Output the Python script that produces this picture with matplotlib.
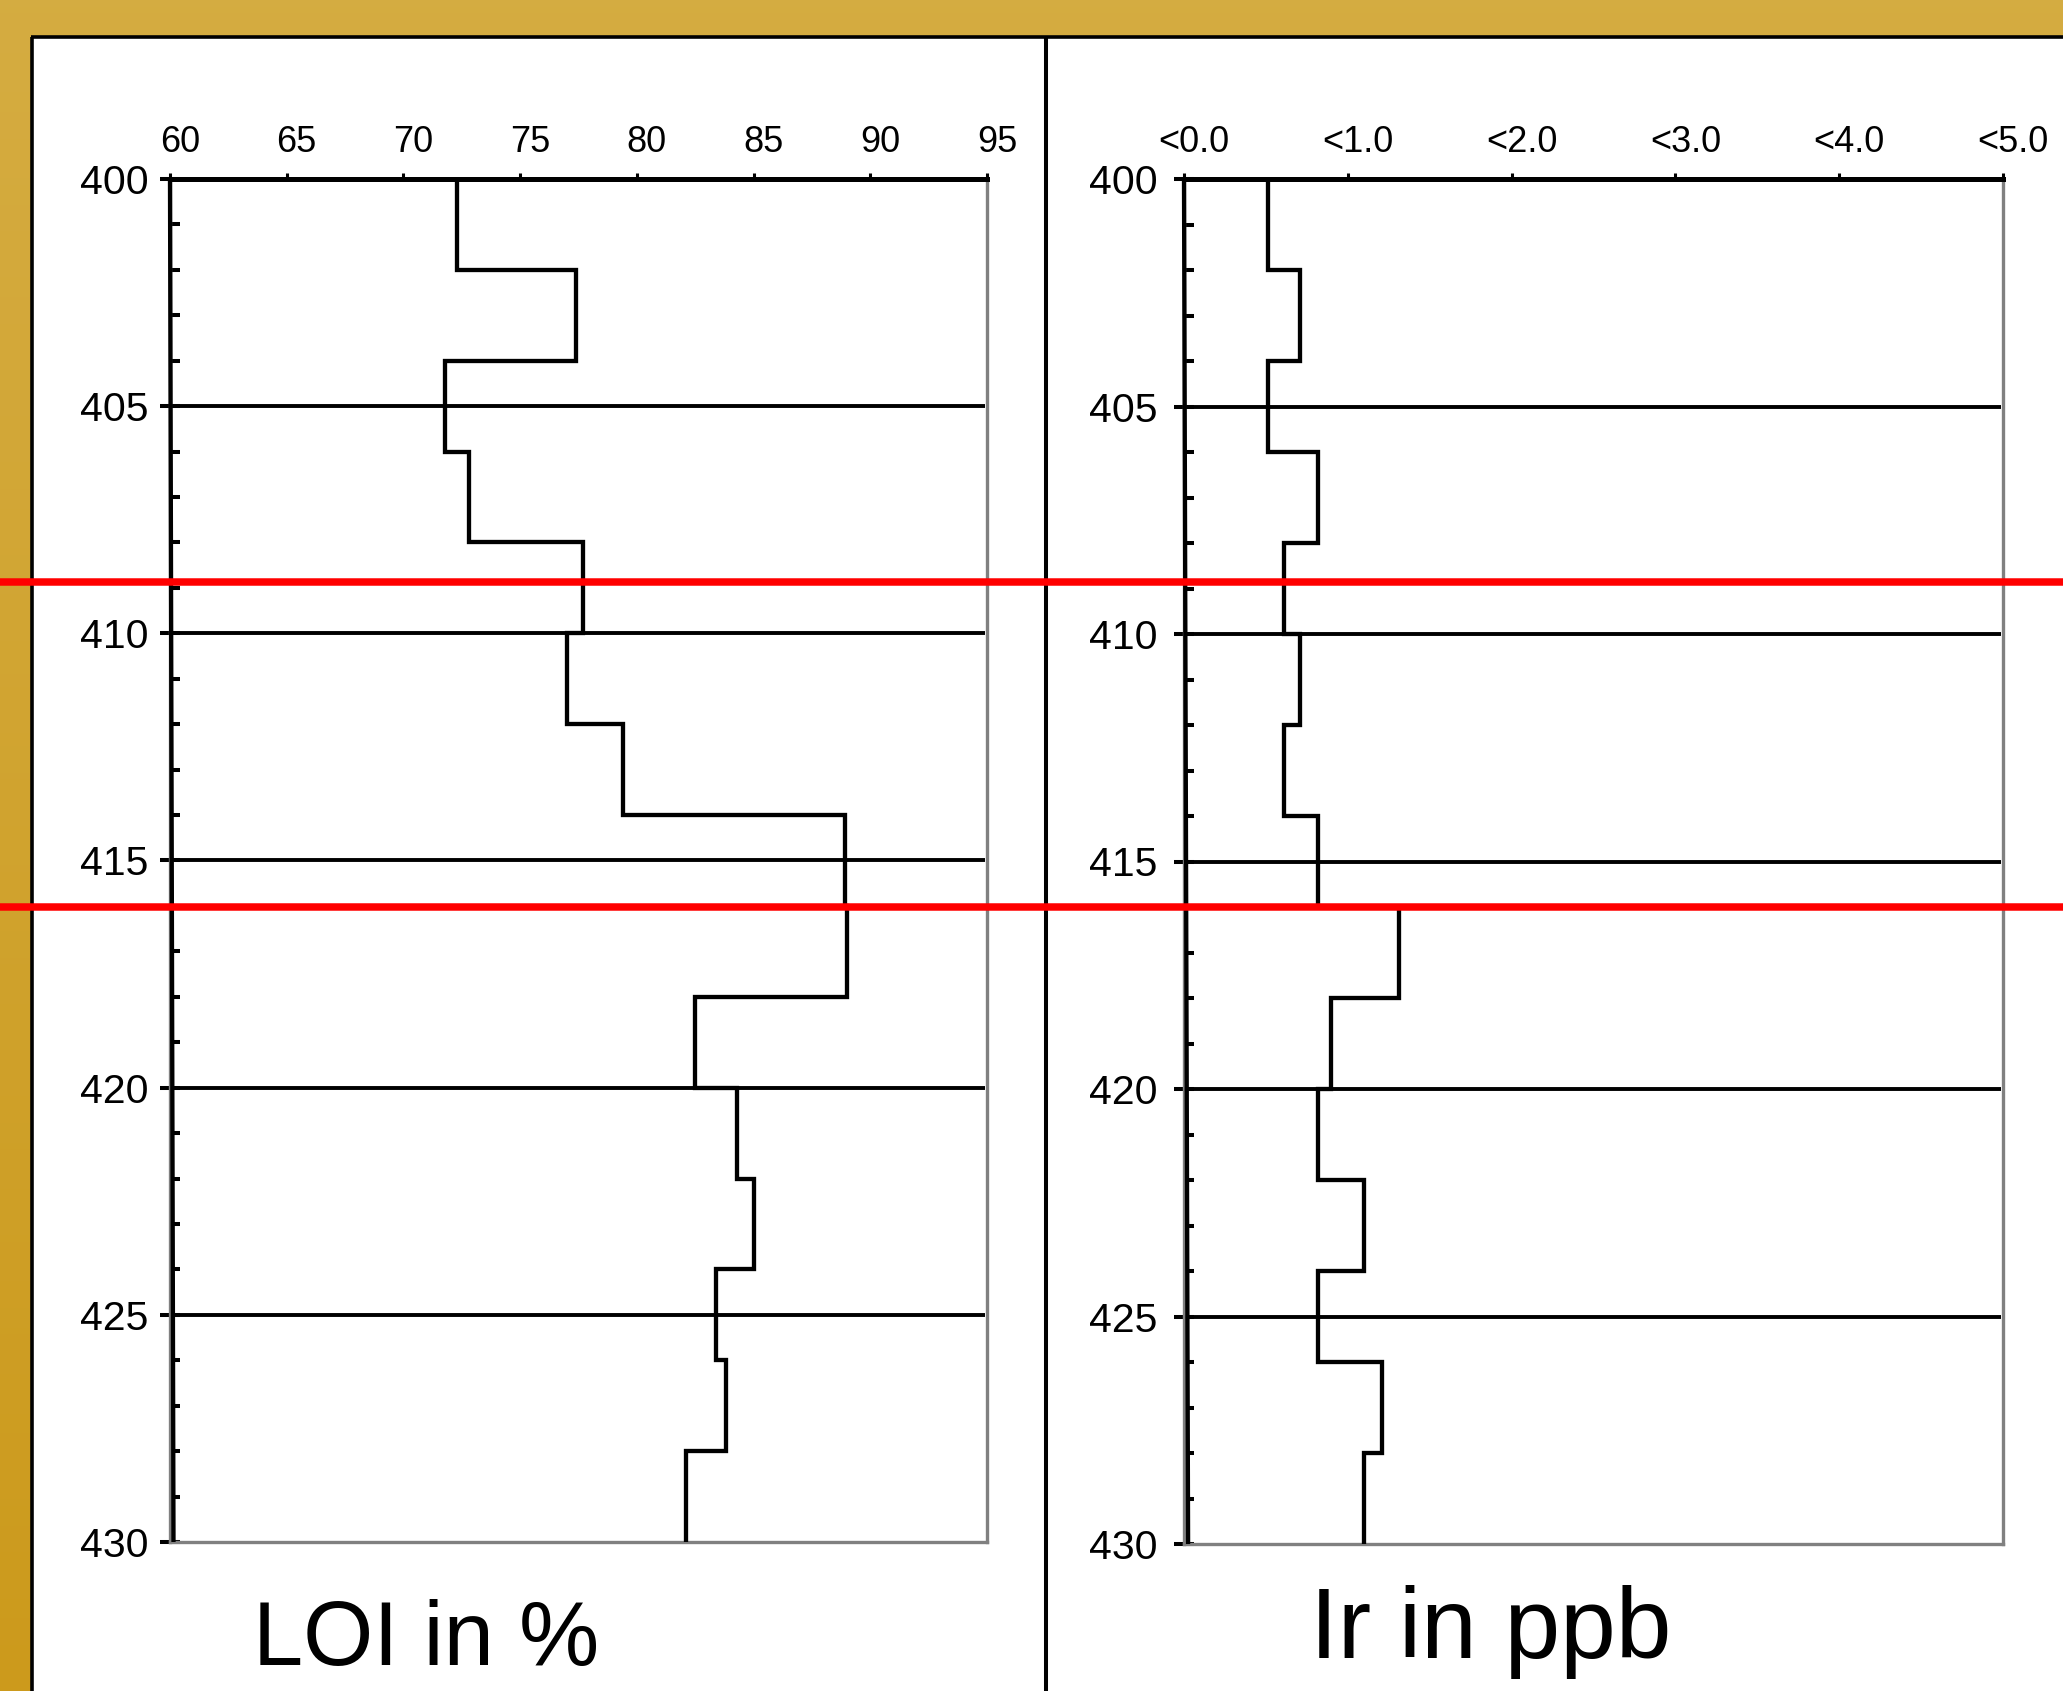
import numpy as np
import matplotlib
matplotlib.use("Agg")
import matplotlib.pyplot as plt
from matplotlib.lines import Line2D
from matplotlib.patches import Rectangle
from matplotlib.transforms import blended_transform_factory, ScaledTranslation
from matplotlib.ticker import MultipleLocator

plt.rcParams['font.family'] = ['Liberation Sans', 'DejaVu Sans']

# ---------------- data ----------------
depth_edges = [400, 402, 404, 406, 408, 410, 412, 414, 416, 418, 420, 422, 424, 426, 428, 430]
loi_values = [72.3, 77.4, 71.8, 72.8, 77.7, 77.0, 79.4, 88.9, 89.0, 82.5, 84.3, 85.0, 83.4, 83.8, 82.1]
ir_values = [0.51, 0.71, 0.51, 0.82, 0.61, 0.71, 0.61, 0.82, 1.31, 0.90, 0.82, 1.10, 0.82, 1.21, 1.10]
ref_depths = [405, 410, 415, 420, 425]
boundary_depths = [408.88, 416.03]
depth_ticks = [400, 405, 410, 415, 420, 425, 430]
loi_ticks = [60, 65, 70, 75, 80, 85, 90, 95]
loi_tick_labels = ['60', '65', '70', '75', '80', '85', '90', '95']
ir_ticks = [0, 1, 2, 3, 4, 5]
ir_tick_labels = ['<0.0', '<1.0', '<2.0', '<3.0', '<4.0', '<5.0']
axis_line_depths = [400, 430]
loi_axis_line = [60.0, 60.15]
ir_axis_line = [0.0, 0.025]
titles = ['LOI in %', 'Ir in ppb']

W, H = 2063, 1691
fig = plt.figure(figsize=(W / 100, H / 100), dpi=100)

# ---------------- background ----------------
bg = fig.add_axes([0, 0, 1, 1], zorder=-10)
top_col = np.array([0.835, 0.675, 0.255])
bot_col = np.array([0.800, 0.605, 0.110])
t = np.linspace(0, 1, 256)[:, None]
grad = (top_col[None, :] * (1 - t) + bot_col[None, :] * t)[:, None, :]
bg.imshow(grad, aspect='auto', extent=[0, 1, 0, 1], origin='upper')
bg.set_xlim(0, 1)
bg.set_ylim(0, 1)
bg.axis('off')
px = lambda v: v / W
py = lambda v: 1 - v / H
bg.add_patch(Rectangle((px(32), 0), 1 - px(32), py(36.5), facecolor='white', edgecolor='none'))
bg.plot([px(31), 1], [py(36.5), py(36.5)], color='black', lw=2.6, solid_capstyle='butt')
bg.plot([px(32), px(32)], [0, py(36.5)], color='black', lw=2.6, solid_capstyle='butt')
bg.plot([px(1046), px(1046)], [0, py(36.5)], color='black', lw=2.9, solid_capstyle='butt')

# ---------------- panels ----------------
ax1 = fig.add_axes([170 / W, 1 - 1542 / H, 817 / W, (1542 - 179) / H])
ax2 = fig.add_axes([1184 / W, 1 - 1544 / H, 819 / W, (1544 - 179) / H])


def step_path(values, edges):
    xs, ys = [], []
    for v, a, b in zip(values, edges[:-1], edges[1:]):
        xs += [v, v]
        ys += [a, b]
    return xs, ys


def setup(ax, xlim, ref_end, ticks, labels, values, axis_line, ypad):
    ax.set_facecolor('none')
    ax.set_xlim(*xlim)
    ax.set_ylim(430, 400)
    ax.xaxis.tick_top()
    ax.set_xticks(ticks)
    ax.set_xticklabels(labels)
    ax.tick_params(axis='x', which='major', direction='out', length=4.5, width=2.2,
                   labelsize=26, pad=9, colors='black')
    ax.set_yticks(depth_ticks)
    ax.yaxis.set_minor_locator(MultipleLocator(1))
    ax.tick_params(axis='y', which='major', direction='inout', length=15, width=2.9,
                   labelsize=29.5, pad=ypad)
    ax.tick_params(axis='y', which='minor', direction='in', length=7.2, width=2.9)
    ax.spines['top'].set_color('black')
    ax.spines['top'].set_linewidth(3.6)
    ax.spines['top'].set_zorder(5)
    for s in ['left', 'right', 'bottom']:
        ax.spines[s].set_color('#808080')
        ax.spines[s].set_linewidth(2.4)
    for lab in ax.get_xticklabels():
        lab.set_transform(lab.get_transform() + ScaledTranslation(0.10, 0, fig.dpi_scale_trans))
    ax.hlines(ref_depths, xlim[0], ref_end, colors='black', lw=2.8, zorder=2)
    ax.plot(axis_line, axis_line_depths, color='black', lw=3.1, clip_on=False, zorder=3,
            solid_capstyle='butt')
    xs, ys = step_path(values, depth_edges)
    ax.plot(xs, ys, color='black', lw=3.1, zorder=4, solid_joinstyle='miter',
            solid_capstyle='butt')


setup(ax1, (60, 95), 94.9, loi_ticks, loi_tick_labels, loi_values, loi_axis_line, 8)
setup(ax2, (0, 5), 4.985, ir_ticks, ir_tick_labels, ir_values, ir_axis_line, 11.5)

# ---------------- red boundary lines ----------------
tr = blended_transform_factory(fig.transFigure, ax1.transData)
for d in boundary_depths:
    fig.add_artist(Line2D([0, 1], [d, d], transform=tr, color='#FF0000', lw=5.4, zorder=100))

# ---------------- titles ----------------
fig.text(426 / W, 1 - 1665 / H, titles[0], fontsize=65, ha='center', va='baseline')
fig.text(1491 / W, 1 - 1658 / H, titles[1], fontsize=72, ha='center', va='baseline')

fig.savefig('out.png', dpi=100)
